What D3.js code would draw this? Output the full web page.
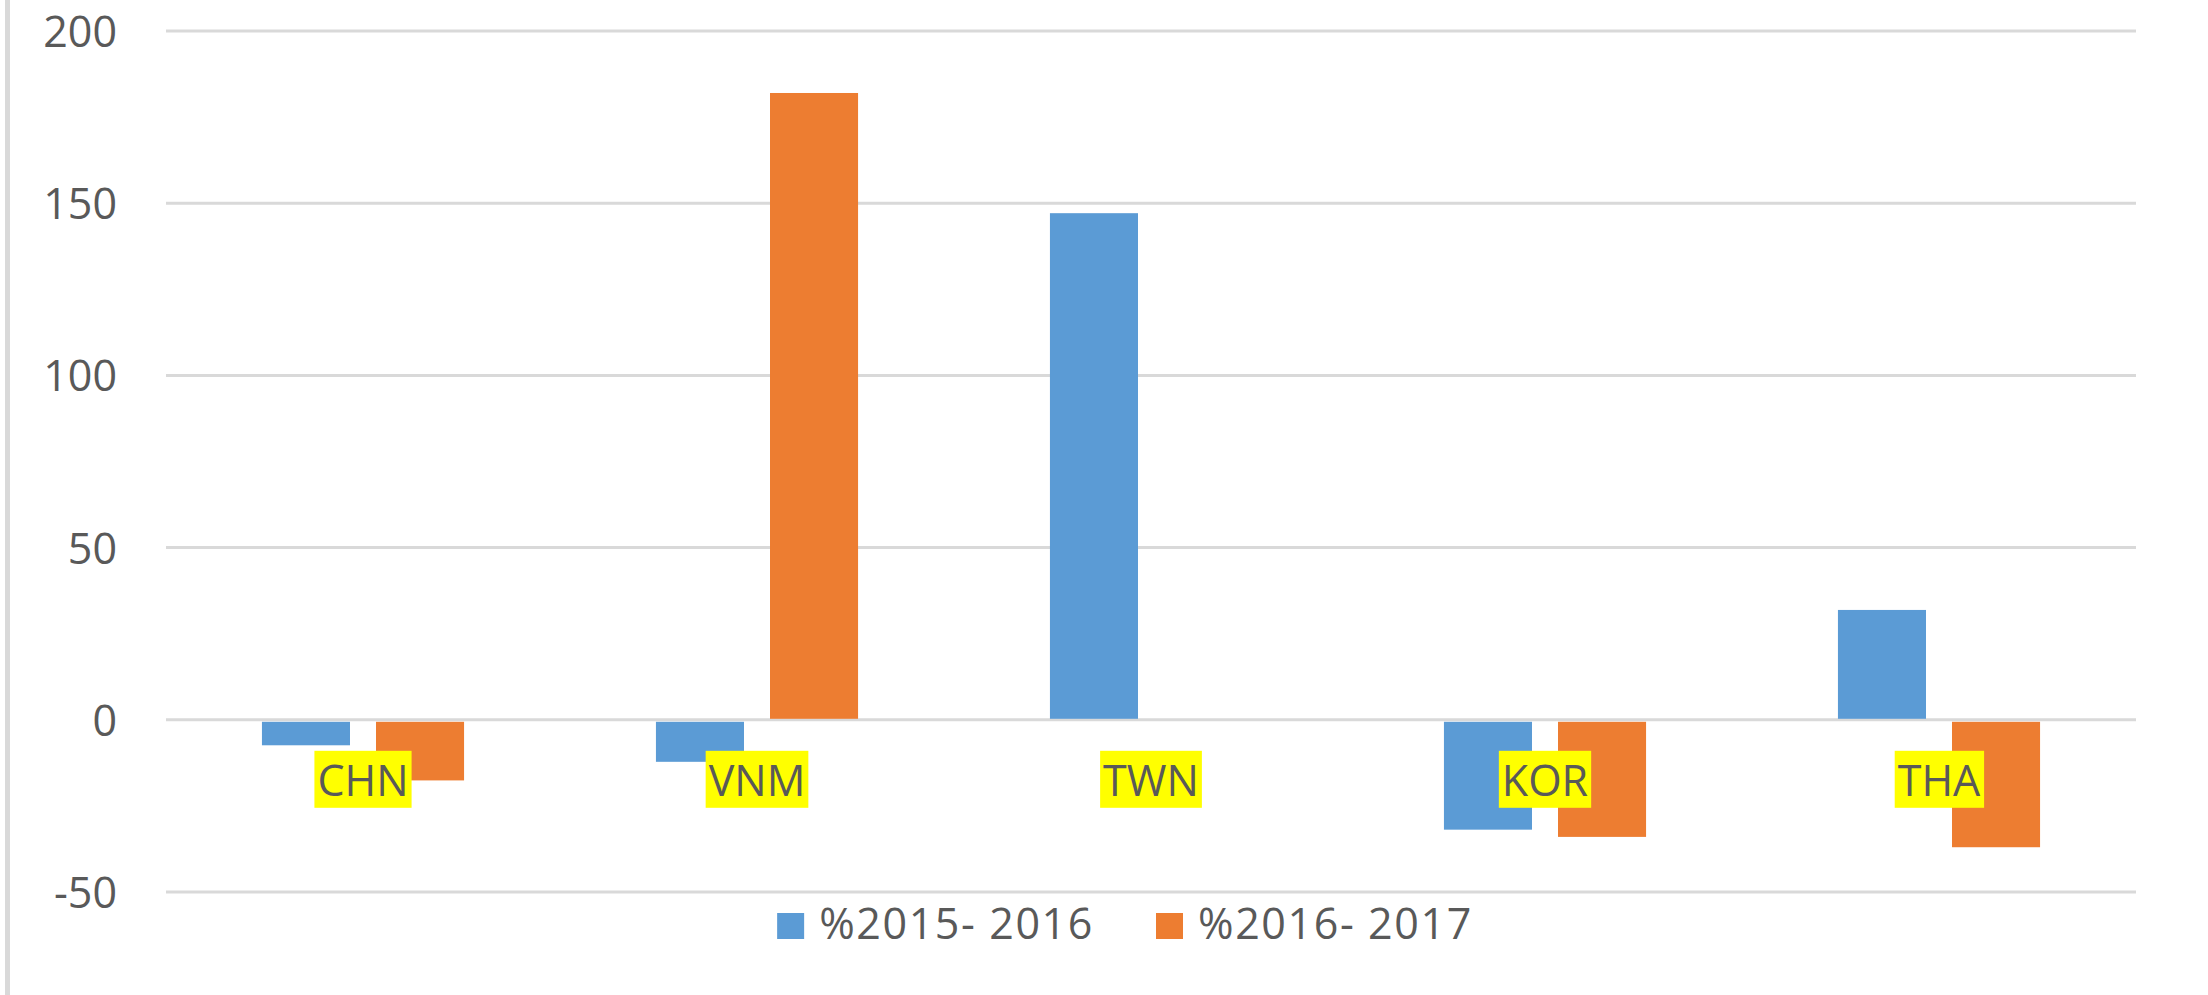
<!DOCTYPE html>
<html>
<head>
<meta charset="utf-8">
<script src="https://cdn.jsdelivr.net/npm/d3@7"></script>
<style>
  body { margin: 0; background: #fff; }
  svg { display: block; }
</style>
</head>
<body>
<div id="chart"></div>
<script>
// data
var categories = ["CHN", "VNM", "TWN", "KOR", "THA"];
var seriesNames = ["%2015- 2016", "%2016- 2017"];
var values2015_2016 = [-7.4, -12.2, 147.1, -31.9, 31.9];
var values2016_2017 = [-17.6, 182, 0, -34.0, -37.0];
var yTicks = [-50, 0, 50, 100, 150, 200];

var colors = ["#5B9BD5", "#ED7D31"];
var textColor = "#595959";
var fontFamily = "'Open Sans', sans-serif";

// set the dimensions and margins of the graph
var W = 2208, H = 995;
var margin = { top: 31, right: 72, bottom: 103, left: 166 },
    width = W - margin.left - margin.right,
    height = H - margin.top - margin.bottom;

var svg = d3.select("#chart")
    .append("svg")
    .attr("width", W)
    .attr("height", H);

// light border on the left edge
svg.append("rect")
    .attr("x", 5)
    .attr("y", 0)
    .attr("width", 5)
    .attr("height", H)
    .attr("fill", "#D9D9D9");

var g = svg.append("g")
    .attr("transform", "translate(" + margin.left + "," + margin.top + ")");

// build rows for grouped bars
var rows = categories.map(function (c, i) {
    return { cat: c, vals: [values2015_2016[i], values2016_2017[i]] };
});

// X scales
var x0 = d3.scaleBand()
    .domain(categories)
    .range([0, width])
    .paddingInner(0.487)
    .paddingOuter(0.2435);

var x1 = d3.scaleBand()
    .domain([0, 1])
    .range([0, x0.bandwidth()])
    .paddingInner(0.228);

// Y scale
var y = d3.scaleLinear()
    .domain([-50, 200])
    .range([861, 0]);

// gridlines
g.append("g")
    .selectAll("line")
    .data(yTicks)
    .enter()
    .append("line")
    .attr("x1", 0)
    .attr("x2", width)
    .attr("y1", function (d) { return y(d); })
    .attr("y2", function (d) { return y(d); })
    .attr("stroke", "#D9D9D9")
    .attr("stroke-width", 3);

// Y axis labels (plain hyphen for negatives)
var yAxis = g.append("g")
    .attr("transform", "translate(-49,0)")
    .call(d3.axisLeft(y).tickValues(yTicks).tickSize(0).tickPadding(0)
        .tickFormat(function (d) { return String(d); }));
yAxis.select(".domain").remove();
yAxis.selectAll("text")
    .attr("fill", textColor)
    .style("font-family", fontFamily)
    .style("font-size", "43px")
    .attr("dy", "0.36em");

// bars
var groups = g.selectAll(".grp")
    .data(rows)
    .enter()
    .append("g")
    .attr("class", "grp")
    .attr("transform", function (d) { return "translate(" + x0(d.cat) + ",0)"; });

groups.selectAll("rect")
    .data(function (d) { return d.vals.map(function (v, k) { return { k: k, v: v }; }); })
    .enter()
    .append("rect")
    .attr("x", function (d) { return x1(d.k); })
    .attr("width", x1.bandwidth())
    .attr("y", function (d) { return d.v >= 0 ? y(d.v) : y(0) + 2; })
    .attr("height", function (d) { return d.v >= 0 ? y(0) - y(d.v) - 1 : y(d.v) - y(0) - 2; })
    .attr("fill", function (d) { return colors[d.k]; });

// category labels with yellow highlight
var labelY = y(0) + 76;
var labels = g.selectAll(".lbl")
    .data(categories)
    .enter()
    .append("g")
    .attr("class", "lbl");

labels.append("rect")
    .attr("fill", "#FFFF00");

labels.append("text")
    .attr("x", function (d) { return x0(d) + x0.bandwidth() / 2; })
    .attr("y", labelY)
    .attr("text-anchor", "middle")
    .attr("fill", textColor)
    .style("font-family", fontFamily)
    .style("font-size", "43px")
    .text(function (d) { return d; });

labels.each(function () {
    var grp = d3.select(this);
    var bb = grp.select("text").node().getBBox();
    grp.select("rect")
        .attr("x", bb.x - 3)
        .attr("width", bb.width + 6)
        .attr("y", labelY - 45)
        .attr("height", 57);
});

// legend
var legend = svg.append("g");
var legendItems = legend.selectAll(".leg")
    .data(seriesNames)
    .enter()
    .append("g")
    .attr("class", "leg");

legendItems.append("rect")
    .attr("width", 27)
    .attr("height", 26)
    .attr("y", 913)
    .attr("fill", function (d, i) { return colors[i]; });

legendItems.append("text")
    .attr("x", 42)
    .attr("y", 939)
    .attr("fill", textColor)
    .style("font-family", fontFamily)
    .style("font-size", "43px")
    .style("letter-spacing", "1.6px")
    .text(function (d) { return d; });

var offsets = [], cursor = 0;
legendItems.each(function () {
    var tw = d3.select(this).select("text").node().getComputedTextLength();
    offsets.push(cursor);
    cursor += 42 + tw + 62;
});
var totalW = cursor - 62;
var legendStart = 1125 - totalW / 2;
legendItems.attr("transform", function (d, i) { return "translate(" + (legendStart + offsets[i]) + ",0)"; });
</script>
</body>
</html>
